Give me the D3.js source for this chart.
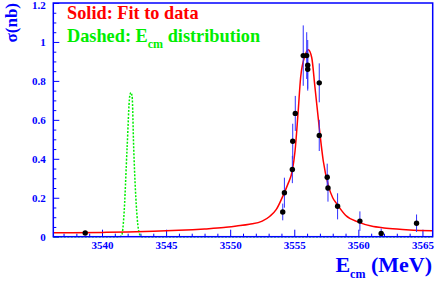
<!DOCTYPE html>
<html>
<head>
<meta charset="utf-8">
<script src="https://cdn.jsdelivr.net/npm/d3@7"></script>
<style>
  body { margin: 0; background: #fff; }
  svg { display: block; }
  text { font-family: "Liberation Serif", "Times New Roman", serif; font-weight: bold; }
</style>
</head>
<body>
<div id="chart"></div>
<script>
// measured points: [Ecm (MeV), sigma (nb), error]
const dataEcm = [3538.69, 3554.10, 3554.23, 3554.85, 3554.88, 3555.08, 3555.70, 3555.97, 3556.05, 3556.05, 3556.95, 3556.95, 3557.57, 3557.63, 3558.38, 3560.12, 3561.78, 3564.54];
const dataSigma = [0.019, 0.127, 0.226, 0.345, 0.490, 0.633, 0.930, 0.930, 0.880, 0.860, 0.790, 0.520, 0.305, 0.250, 0.156, 0.080, 0.017, 0.069];
const dataErr = [0.008, 0.043, 0.077, 0.070, 0.090, 0.090, 0.155, 0.120, 0.130, 0.100, 0.100, 0.080, 0.070, 0.070, 0.067, 0.050, 0.025, 0.045];

// fit curve
const fitEcm = [3536.2, 3540, 3542, 3544, 3546, 3548, 3549.5, 3550.5, 3551.5, 3552.5, 3553.1, 3553.6, 3554.15, 3554.5, 3554.85, 3555.06, 3555.3, 3555.5, 3555.84, 3556.09, 3556.36, 3556.61, 3556.95, 3557.26, 3557.65, 3558.0, 3558.3, 3559.0, 3560.0, 3561.0, 3562.0, 3563.0, 3564.0, 3565.8];
const fitSigma = [0.020, 0.022, 0.024, 0.028, 0.033, 0.040, 0.047, 0.055, 0.064, 0.080, 0.105, 0.140, 0.215, 0.270, 0.340, 0.440, 0.640, 0.820, 0.930, 0.960, 0.920, 0.770, 0.560, 0.390, 0.265, 0.200, 0.170, 0.110, 0.075, 0.055, 0.045, 0.039, 0.035, 0.031];

// beam energy distribution (dashed)
const beamEcm = [3536.2, 3541.4, 3541.55, 3541.70, 3541.96, 3542.16, 3542.25, 3542.35, 3542.47, 3542.74, 3542.95, 3543.1, 3565.8];
const beamSigma = [0, 0, 0.01, 0.10, 0.46, 0.72, 0.74, 0.72, 0.46, 0.10, 0.01, 0, 0];

const xMajor = [3540, 3545, 3550, 3555, 3560, 3565];
const yMajor = [0, 0.2, 0.4, 0.6, 0.8, 1, 1.2];

const width = 436, height = 282;
const margin = { left: 53.3, right: 432.7, top: 3, bottom: 236.7 };
const blue = "#0000ff";

const svg = d3.select("#chart").append("svg")
  .attr("width", width)
  .attr("height", height);

const x = d3.scaleLinear().domain([3536.2, 3565.8]).range([margin.left, margin.right]);
const y = d3.scaleLinear().domain([0, 1.2]).range([margin.bottom, margin.top]);

// --- axes ---
const xMinor = d3.range(3537, 3566, 1).filter(v => v % 5 !== 0);
const yMinor = d3.range(0, 1.2001, 0.05).filter(v => Math.round(v * 100) % 20 !== 0);

svg.append("g")
  .attr("transform", `translate(0,${margin.bottom})`)
  .call(d3.axisBottom(x).tickValues(xMinor).tickSize(-3).tickFormat(""))
  .call(g => g.select(".domain").remove());

svg.append("g")
  .attr("transform", `translate(0,${margin.bottom})`)
  .call(d3.axisBottom(x).tickValues(xMajor).tickSize(-7).tickPadding(5).tickFormat(d3.format("d")))
  .call(g => g.select(".domain").remove())
  .call(g => g.selectAll("text").attr("font-size", 11).attr("fill", blue)
    .style("font-family", "Liberation Serif").style("font-weight", "bold"));

svg.append("g")
  .attr("transform", `translate(${margin.left},0)`)
  .call(d3.axisLeft(y).tickValues(yMinor).tickSize(-3).tickFormat(""))
  .call(g => g.select(".domain").remove());

svg.append("g")
  .attr("transform", `translate(${margin.left},0)`)
  .call(d3.axisLeft(y).tickValues(yMajor).tickSize(-6).tickPadding(7.5).tickFormat(d3.format("~g")))
  .call(g => g.select(".domain").remove())
  .call(g => g.selectAll("text").attr("font-size", 11).attr("fill", blue)
    .style("font-family", "Liberation Serif").style("font-weight", "bold"))
  // top label sits against the window edge
  .call(g => g.selectAll("text").filter(d => d === 1.2).attr("dy", "0.5em"));

svg.selectAll(".tick line").attr("stroke", blue).attr("stroke-width", 1);

// --- curves ---
const pts = (xs, ys) => xs.map((v, i) => [v, ys[i]]);
const line = d3.line().x(d => x(d[0])).y(d => y(d[1])).curve(d3.curveMonotoneX);

svg.append("path")
  .datum(pts(beamEcm, beamSigma))
  .attr("d", line)
  .attr("fill", "none")
  .attr("stroke", "#00ee00")
  .attr("stroke-width", 1.5)
  .attr("stroke-dasharray", "2,1.5");

svg.append("path")
  .datum(pts(fitEcm, fitSigma))
  .attr("d", line)
  .attr("fill", "none")
  .attr("stroke", "#ff0000")
  .attr("stroke-width", 1.5);

// --- data with error bars ---
const data = dataEcm.map((e, i) => ({ e, s: dataSigma[i], err: dataErr[i] }));

svg.append("g").selectAll("line")
  .data(data)
  .join("line")
    .attr("x1", d => x(d.e))
    .attr("x2", d => x(d.e))
    .attr("y1", d => y(Math.max(0, d.s - d.err)))
    .attr("y2", d => y(d.s + d.err))
    .attr("stroke", "#3030ff")
    .attr("stroke-width", 1);

svg.append("g").selectAll("circle")
  .data(data)
  .join("circle")
    .attr("cx", d => x(d.e))
    .attr("cy", d => y(d.s))
    .attr("r", 2.7)
    .attr("fill", "#000");

// frame
svg.append("rect")
  .attr("x", margin.left).attr("y", margin.top)
  .attr("width", margin.right - margin.left).attr("height", margin.bottom - margin.top)
  .attr("fill", "none")
  .attr("stroke", blue)
  .attr("stroke-width", 1.5);

// --- titles ---
svg.append("text")
  .attr("transform", `translate(17,3) rotate(-90)`)
  .attr("text-anchor", "end")
  .attr("font-size", 17)
  .attr("fill", blue)
  .text("σ(nb)");

const xt = svg.append("text")
  .attr("x", 432).attr("y", 272)
  .attr("text-anchor", "end")
  .attr("font-size", 22)
  .attr("fill", blue);
xt.append("tspan").text("E");
xt.append("tspan").attr("font-size", 12).attr("dy", 6).text("cm");
xt.append("tspan").attr("dy", -6).text(" (MeV)");

svg.append("text")
  .attr("x", 67).attr("y", 19)
  .attr("font-size", 18.3)
  .attr("fill", "#ff0000")
  .text("Solid: Fit to data");

const lg = svg.append("text")
  .attr("x", 67).attr("y", 42)
  .attr("font-size", 18.3)
  .attr("fill", "#00ee00");
lg.append("tspan").text("Dashed: E");
lg.append("tspan").attr("font-size", 12).attr("dy", 6).text("cm");
lg.append("tspan").attr("dy", -6).text(" distribution");
</script>
</body>
</html>
